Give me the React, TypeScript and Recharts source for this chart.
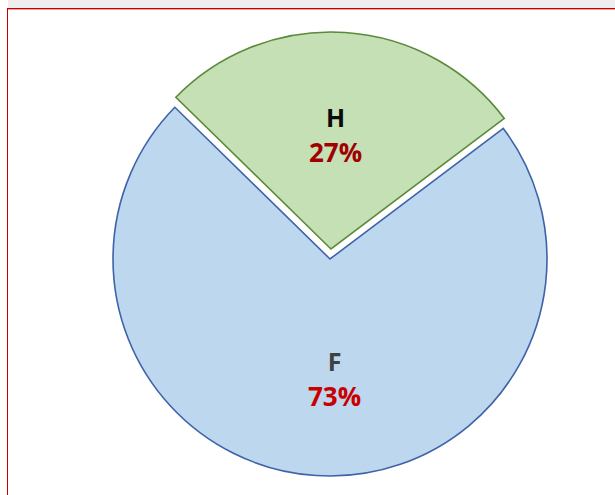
import React from "react";
import { PieChart, Pie, Cell } from "recharts";

const categories = ["H", "F"];
const values = [27.4, 72.6];
const fills = ["#c5e0b4", "#bdd7ee"];
const strokes = ["#5a8a3a", "#3e63a8"];
const nameColors = ["#0a0a0a", "#404040"];
const pctColors = ["#a00000", "#c80000"];
const labelRadiusFrac = [0.53, 0.55];

const data = categories.map((c, i) => ({ name: c, value: values[i] }));
const total = values.reduce((a, b) => a + b, 0);

const RAD = Math.PI / 180;
const START = 37;
const OUTER = 217;
const FONT = "'Open Sans', 'DejaVu Sans', sans-serif";

const makeLabel = (show: number) => (props: any) => {
  const { cx, cy, midAngle, index } = props;
  if (index !== show) return null;
  const r = OUTER * labelRadiusFrac[index];
  const x = cx + 4.5;
  const y = cy + Math.sin(-midAngle * RAD) * r;
  const pct = Math.round((values[index] / total) * 100) + "%";
  return (
    <g>
      <text
        x={x}
        y={y - 17.5}
        textAnchor="middle"
        dominantBaseline="central"
        fontFamily={FONT}
        fontWeight={700}
        fontSize={25}
        fill={nameColors[index]}
      >
        {categories[index]}
      </text>
      <text
        x={x}
        y={y + 17.5}
        textAnchor="middle"
        dominantBaseline="central"
        fontFamily={FONT}
        fontWeight={700}
        fontSize={26}
        fill={pctColors[index]}
      >
        {pct}
      </text>
    </g>
  );
};

const M = { top: 0, right: 0, bottom: 0, left: 0 };

export default function App() {
  return (
    <div
      style={{
        position: "fixed",
        top: 0,
        left: 0,
        width: 615,
        height: 495,
        background: "#ffffff",
        overflow: "hidden",
      }}
    >
      <style>{`body{margin:0;background:#fff}`}</style>
      <div
        style={{
          position: "absolute",
          top: 0,
          left: 8,
          width: 607,
          height: 8,
          background: "#eeeeee",
        }}
      />
      <div
        style={{
          position: "absolute",
          top: 8,
          left: 7,
          width: 608,
          height: 1,
          background: "#c80000",
        }}
      />
      <div
        style={{
          position: "absolute",
          top: 9,
          left: 8,
          width: 607,
          height: 1,
          background: "#f2a0a0",
        }}
      />
      <div
        style={{
          position: "absolute",
          top: 8,
          left: 7,
          width: 1,
          height: 487,
          background: "#c80000",
        }}
      />
      <div style={{ position: "absolute", top: 0, left: 0 }}>
        <PieChart width={615} height={495} margin={M}>
          <Pie
            data={data}
            dataKey="value"
            nameKey="name"
            cx={330}
            cy={259}
            outerRadius={OUTER}
            innerRadius={0}
            startAngle={START}
            endAngle={START + 360}
            isAnimationActive={false}
            labelLine={false}
            label={makeLabel(1)}
          >
            {data.map((d, i) => (
              <Cell
                key={d.name}
                fill={i === 1 ? fills[i] : "none"}
                stroke={i === 1 ? strokes[i] : "none"}
                strokeWidth={1.6}
              />
            ))}
          </Pie>
          <Pie
            data={data}
            dataKey="value"
            nameKey="name"
            cx={331}
            cy={249}
            outerRadius={OUTER}
            innerRadius={0}
            startAngle={START}
            endAngle={START + 360}
            isAnimationActive={false}
            labelLine={false}
            label={makeLabel(0)}
          >
            {data.map((d, i) => (
              <Cell
                key={d.name}
                fill={i === 0 ? fills[i] : "none"}
                stroke={i === 0 ? strokes[i] : "none"}
                strokeWidth={1.6}
              />
            ))}
          </Pie>
        </PieChart>
      </div>
    </div>
  );
}
